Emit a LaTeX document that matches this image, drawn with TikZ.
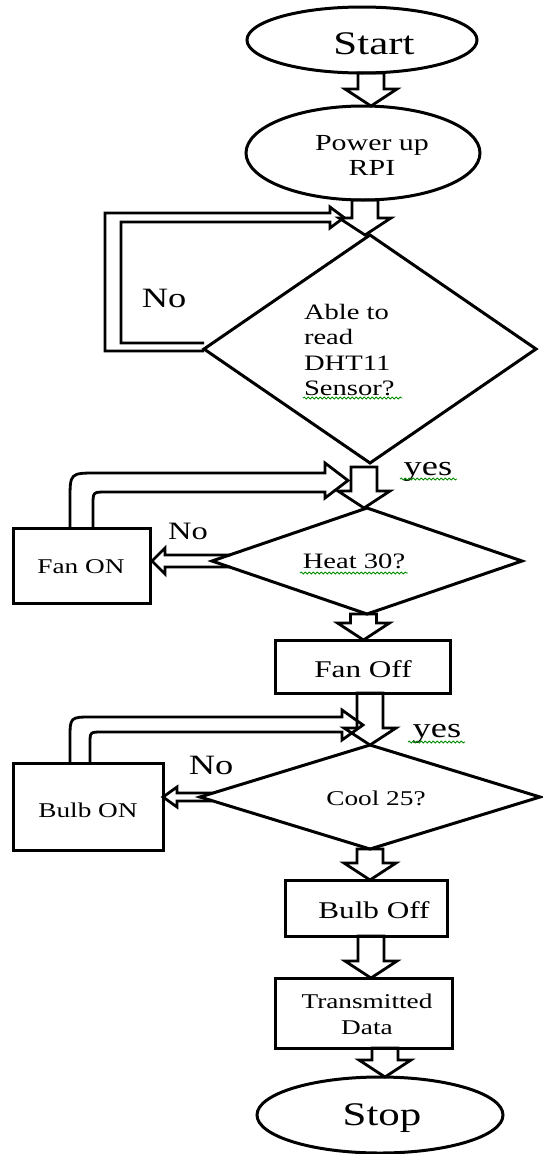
\documentclass[tikz,border=0pt]{standalone}
\usepackage{fontspec}
\setmainfont{Liberation Serif}[FakeStretch=1.3]
\usetikzlibrary{shapes.geometric,calc,decorations.pathmorphing}
\newcommand\myfs[2]{\fontsize{#1}{#2}\selectfont}
\begin{document}
\begin{tikzpicture}[x=1pt,y=-1pt,
  shp/.style={draw, line width=3pt, inner sep=0pt, outer sep=0pt},
  oval/.style={shp, ellipse},
  dia/.style={shp, diamond},
  box/.style={shp, rectangle},
  lbl/.style={inner sep=0pt, outer sep=0pt, text=black},
  blk/.style={draw, line width=2.8pt, line join=miter},
  downblk/.style={blk, to path={let \p1=(\tikztostart), \p2=(\tikztotarget) in
     (\x1-13pt,\y1) -- (\x1-13pt,\y2+17pt) -- (\x1-26pt,\y2+17pt) -- (\x1,\y2)
     -- (\x1+26pt,\y2+17pt) -- (\x1+13pt,\y2+17pt) -- (\x1+13pt,\y1) -- cycle}},
  leftblk/.style n args={3}{blk, to path={let \p1=(\tikztostart), \p2=(\tikztotarget) in
     (\x1+3*#1,\y1+#1) -- (\x2+#3,\y1+#1) -- (\x2+#3,\y1+#2) -- (\x2,\y1)
     -- (\x2+#3,\y1-#2) -- (\x2+#3,\y1-#1) -- (\x1+3*#1,\y1-#1)}},
  squig/.style={draw=green!55!black, line width=0.9pt, decorate,
     decoration={snake, amplitude=0.9pt, segment length=4pt}}
]
\useasboundingbox (0,0) rectangle (543,1154);

% shapes
\node[oval, minimum width=230pt, minimum height=66pt] (start) at (362,40) {};
\node[oval, minimum width=234pt, minimum height=94pt] (power) at (363,153) {};
\node[dia, minimum width=332pt, minimum height=228pt] (d1) at (370,349) {};
\node[dia, minimum width=310pt, minimum height=106pt] (d2) at (367,561) {};
\node[box, minimum width=137pt, minimum height=75pt] (fanon) at (81.5,565.5) {};
\node[box, minimum width=175pt, minimum height=53pt] (fanoff) at (362.5,666.5) {};
\node[dia, minimum width=340pt, minimum height=104pt] (d3) at (370,797) {};
\node[box, minimum width=150pt, minimum height=87pt] (bulbon) at (88,806.5) {};
\node[box, minimum width=162pt, minimum height=56pt] (bulboff) at (366,908) {};
\node[box, minimum width=177pt, minimum height=70pt] (trans) at (363.5,1013) {};
\node[oval, minimum width=246pt, minimum height=76pt] (stop) at (380,1115) {};

% texts
\node[lbl, font=\myfs{33}{36}] (startT) at (374,44) {Start};
\node[lbl, align=center, font=\myfs{23}{25}] (powerT) at (372,155) {Power up\\RPI};
\node[lbl, align=left, anchor=west, font=\myfs{22}{25.5}] (d1T) at (304,350) {Able to\\read\\DHT11\\Sensor?};
\node[lbl, font=\myfs{28}{30}] (no1) at (164,298) {No};
\node[lbl, anchor=base, font=\myfs{28}{30}] (yes1) at (428,475) {yes};
\node[lbl, font=\myfs{22}{24}] (d2T) at (354,561) {Heat 30?};
\node[lbl, font=\myfs{21}{23}] (fanonT) at (81,567) {Fan ON};
\node[lbl, font=\myfs{25}{27}] (no2) at (188,531) {No};
\node[lbl, font=\myfs{24}{26}] (fanoffT) at (363,669) {Fan Off};
\node[lbl, anchor=base, font=\myfs{28}{30}] (yes2) at (437,737) {yes};
\node[lbl, font=\myfs{28}{30}] (no3) at (211,765) {No};
\node[lbl, font=\myfs{21}{23}] (d3T) at (376,798) {Cool 25?};
\node[lbl, font=\myfs{21}{23}] (bulbonT) at (88,810) {Bulb ON};
\node[lbl, font=\myfs{24}{26}] (bulboffT) at (374,910) {Bulb Off};
\node[lbl, align=center, font=\myfs{21}{26}] (transT) at (367,1014) {Transmitted\\Data};
\node[lbl, font=\myfs{33}{36}] (stopT) at (382,1118) {Stop};

% spell-check squiggles
\draw[squig] (303,398) -- (402,398);
\draw[squig] (300,573) -- (408,573);
\draw[squig] (400,479) -- (457,479);
\draw[squig] (408,742) -- (465,742);

% main block arrows
\draw[downblk] ([xshift=9pt]start.south) to (power.north);
\draw[downblk] ([xshift=2pt]power.south) to (d1.north);
\draw[downblk] ([xshift=-6pt,yshift=-4pt]d1.south) to (d2.north);
\draw[downblk] ([xshift=-3.5pt]d2.south) to (fanoff.north);
\draw[downblk] ([xshift=7.5pt]fanoff.south) to (d3.north);
\draw[downblk] (d3.south) to (bulboff.north);
\draw[downblk] ([xshift=5pt]bulboff.south) to (trans.north);
\draw[downblk] ([xshift=21.5pt]trans.south) to (stop.north);

% No branches
\draw[leftblk={6pt}{13pt}{13pt}] (d2.west) to ([xshift=2pt]fanon.east);
\draw[leftblk={4pt}{10pt}{14pt}] (d3.west) to (bulbon.east);

% loop back arrows
\coordinate (j1) at (344,217.5);
\draw[blk] ($(d1.west)+(0,-6)$) -- (121,343) -- (121,222) -- (330,222) -- (330,228)
  -- (j1) -- (330,207) -- (330,213) -- (105,213) -- (105,351) -- ($(d1.west)+(0,2)$);

\coordinate (j2) at (348,480.5);
\draw[blk] ($(fanon.north)+(-11.5,0)$) -- (70,500) .. controls (70,473) .. (97,473)
  -- (325,473) -- (325,463) -- (j2) -- (325,498) -- (325,492) -- (106,492)
  .. controls (93,492) .. (93,505) -- ($(fanon.north)+(11.5,0)$);

\coordinate (j3) at (363,725);
\draw[blk] ($(bulbon.north west)+(57,0)$) -- (70,739) .. controls (70,717) .. (92,717)
  -- (342,717) -- (342,710) -- (j3) -- (342,740) -- (342,732) -- (102,732)
  .. controls (90,732) .. (90,744) -- ($(bulbon.north west)+(77,0)$);
\end{tikzpicture}
\end{document}
